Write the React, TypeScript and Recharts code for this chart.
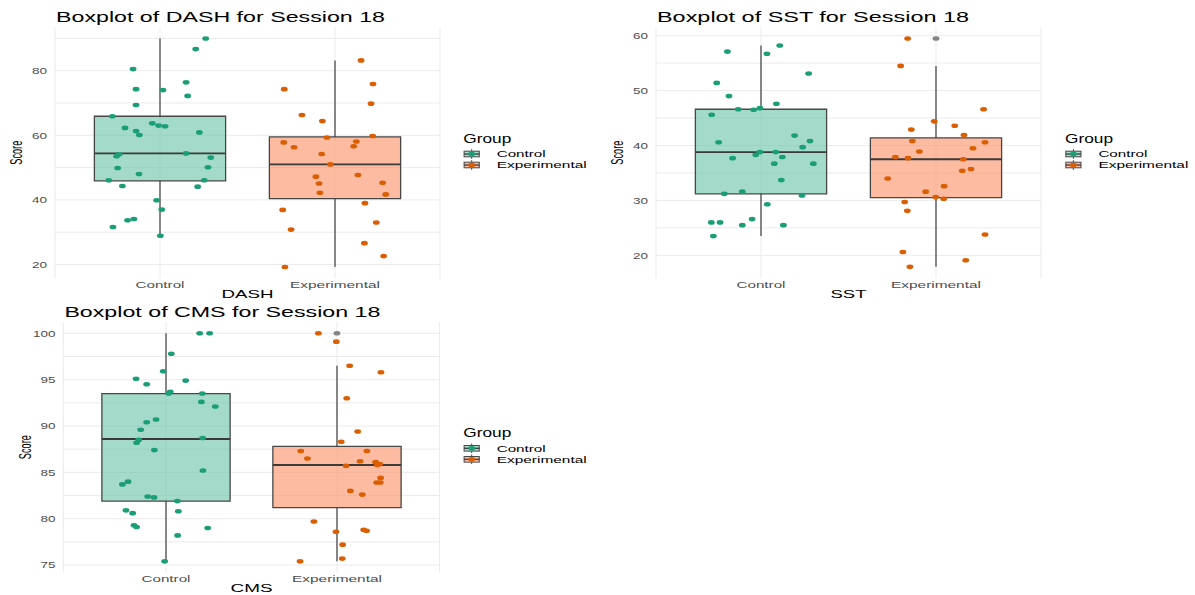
import {
  ComposedChart,
  Scatter,
  XAxis,
  YAxis,
  CartesianGrid,
  ReferenceArea,
  ReferenceLine,
} from 'recharts';

const FONT = '"Liberation Sans", Arial, Helvetica, sans-serif';

const GROUPS = ['Control', 'Experimental'];
const POINT_COLORS = ['#1b9e77', '#d95f02']; // Dark2
const BOX_FILLS = ['#66c2a5', '#fc8d62']; // Set2, drawn at 60% opacity
const OUTLIER_COLOR = '#858585';

// ---- DASH, session 18 ----
const dashControlX = [1.261, 1.204, 0.846, 1.149, 0.863, 1.017, 1.158, 0.863, 0.728, 0.956, 0.992, 1.029, 0.8, 0.863, 0.882, 1.225, 1.149, 0.766, 0.752, 1.29, 0.758, 1.274, 0.88, 0.707, 1.253, 0.785, 1.215, 0.981, 1.01, 0.851, 0.815, 0.731, 1.002];
const dashControlY = [90.0, 86.7, 80.5, 76.4, 74.3, 74.0, 72.2, 69.4, 65.9, 63.7, 63.0, 62.8, 62.3, 61.3, 60.1, 60.9, 54.4, 54.1, 53.5, 53.1, 49.9, 50.1, 48.0, 46.1, 46.1, 44.3, 44.1, 39.9, 37.0, 34.1, 33.7, 31.6, 28.9];
const dashExpX = [2.149, 2.217, 1.71, 2.206, 1.811, 1.928, 2.215, 1.954, 2.122, 1.707, 2.107, 1.766, 1.924, 1.973, 2.131, 1.891, 2.272, 1.909, 1.914, 2.29, 2.171, 1.701, 2.236, 1.749, 2.168, 2.278, 1.714];
const dashExpY = [83.2, 75.9, 74.3, 69.8, 66.3, 64.4, 59.8, 59.3, 58.1, 57.8, 56.6, 56.3, 54.2, 51.0, 47.7, 47.2, 45.3, 45.1, 42.2, 41.7, 39.0, 36.9, 33.0, 30.8, 26.6, 22.6, 19.2];
// [lower whisker, Q1, median, Q3, upper whisker]
const dashControlBox = [28.9, 45.9, 54.4, 65.9, 90.0];
const dashExpBox = [19.2, 40.4, 51.0, 59.5, 83.2];
const dashTicks = [20, 40, 60, 80];
const dashGrid = [20, 30, 40, 50, 60, 70, 80, 90];

// ---- SST, session 18 ----
const sstControlX = [1.107, 0.808, 1.034, 1.272, 0.747, 0.817, 1.088, 0.87, 0.958, 0.994, 0.718, 1.192, 0.758, 1.28, 1.238, 0.994, 1.084, 0.97, 1.122, 0.838, 1.076, 1.299, 1.116, 0.893, 0.79, 1.234, 1.036, 0.949, 0.716, 0.766, 0.893, 1.128, 0.728];
const sstControlY = [58.2, 57.1, 56.7, 53.1, 51.4, 49.0, 47.6, 46.6, 46.5, 46.8, 45.6, 41.8, 40.6, 40.8, 39.7, 38.8, 38.8, 38.3, 37.9, 37.7, 36.7, 36.7, 33.7, 31.6, 31.2, 30.9, 29.3, 26.6, 26.0, 26.0, 25.5, 25.5, 23.5];
const sstExpX = [1.838, 1.798, 2.272, 1.99, 2.107, 1.859, 2.16, 1.865, 2.28, 2.211, 1.905, 1.768, 1.84, 2.156, 2.2, 2.15, 1.724, 2.046, 1.941, 1.998, 2.044, 1.821, 1.836, 2.28, 1.811, 2.17, 1.851];
const sstExpY = [59.5, 54.5, 46.6, 44.4, 43.6, 42.9, 41.9, 40.8, 40.6, 39.5, 38.9, 37.9, 37.7, 37.5, 35.7, 35.4, 34.0, 32.6, 31.6, 30.6, 30.3, 29.7, 28.1, 23.8, 20.6, 19.1, 17.9];
const sstControlBox = [23.5, 31.2, 38.8, 46.6, 58.2];
const sstExpBox = [17.9, 30.5, 37.5, 41.4, 54.5];
const sstExpOutliers = [59.5];
const sstTicks = [20, 30, 40, 50, 60];
const sstGrid = [20, 25, 30, 35, 40, 45, 50, 55, 60];

// ---- CMS, session 18 ----
const cmsControlX = [1.197, 1.255, 1.031, 0.984, 0.825, 1.115, 0.887, 1.025, 1.016, 1.212, 1.207, 1.288, 0.942, 0.887, 0.852, 0.84, 1.214, 0.828, 0.932, 1.216, 0.778, 0.745, 0.893, 0.93, 1.066, 0.766, 0.805, 1.072, 0.813, 0.828, 1.244, 1.068, 0.992];
const cmsControlY = [100, 100, 97.8, 95.9, 95.1, 94.9, 94.5, 93.7, 93.5, 93.5, 92.6, 92.1, 90.7, 90.4, 89.6, 88.5, 88.7, 88.2, 87.4, 85.2, 84.0, 83.7, 82.4, 82.3, 81.9, 80.9, 80.6, 80.8, 79.3, 79.1, 79.0, 78.2, 75.4];
const cmsExpX = [1.891, 1.996, 2.074, 2.257, 2.057, 2.121, 2.025, 1.788, 2.175, 1.827, 2.135, 2.226, 2.25, 2.236, 2.053, 2.255, 2.232, 2.253, 2.078, 2.148, 1.865, 1.994, 2.156, 2.173, 2.033, 2.031, 1.784];
const cmsExpY = [100, 99.1, 96.5, 95.8, 93.0, 89.4, 88.3, 87.3, 87.3, 86.5, 86.2, 86.1, 85.9, 85.8, 85.7, 84.4, 83.9, 83.9, 83.0, 82.6, 79.7, 78.6, 78.8, 78.7, 77.2, 75.7, 75.4];
const cmsControlBox = [75.4, 81.9, 88.6, 93.5, 100];
const cmsExpBox = [75.4, 81.2, 85.8, 87.8, 96.5];
const cmsExpOutliers = [100];
const cmsTicks = [75, 80, 85, 90, 95, 100];
const cmsGrid = [75, 77.5, 80, 82.5, 85, 87.5, 90, 92.5, 95, 97.5, 100];

const toPoints = (xs: number[], ys: number[]) => xs.map((x, i) => ({ x, y: ys[i] }));

const PANELS = [
  {
    key: 'dash',
    measure: 'DASH',
    title: 'Boxplot of DASH for Session 18',
    origin: { x: 0, y: 0 },
    plot: { left: 55, right: 440, top: 27, bottom: 278.5 },
    domain: [15.66, 93.54],
    ticks: dashTicks,
    grid: dashGrid,
    points: [toPoints(dashControlX, dashControlY), toPoints(dashExpX, dashExpY)],
    boxes: [dashControlBox, dashExpBox],
    outliers: [[], []] as number[][],
    titleWidth: 329,
    measureWidth: 52,
    legend: { x: 0, y: 0 },
  },
  {
    key: 'sst',
    measure: 'SST',
    title: 'Boxplot of SST for Session 18',
    origin: { x: 600, y: 0 },
    plot: { left: 656, right: 1041, top: 26.9, bottom: 278.4 },
    domain: [15.8, 61.6],
    ticks: sstTicks,
    grid: sstGrid,
    points: [toPoints(sstControlX, sstControlY), toPoints(sstExpX, sstExpY)],
    boxes: [sstControlBox, sstExpBox],
    outliers: [[], sstExpOutliers],
    titleWidth: 312,
    measureWidth: 36,
    legend: { x: 601.7, y: 0 },
  },
  {
    key: 'cms',
    measure: 'CMS',
    title: 'Boxplot of CMS for Session 18',
    origin: { x: 0, y: 294 },
    plot: { left: 63.4, right: 439.6, top: 321.9, bottom: 572.4 },
    domain: [74.21, 101.23],
    ticks: cmsTicks,
    grid: cmsGrid,
    points: [toPoints(cmsControlX, cmsControlY), toPoints(cmsExpX, cmsExpY)],
    boxes: [cmsControlBox, cmsExpBox],
    outliers: [[], cmsExpOutliers],
    titleWidth: 316,
    measureWidth: 42,
    legend: { x: 0, y: 294.3 },
  },
];

const GROUP_LABEL_WIDTHS = [49, 90];
const BOX_HALF = 0.375;

// text squeezed/stretched to a fixed length, like the wide rendering of the plots
function FitText({ x, y, width, size, anchor = 'start', color = '#000', children }: any) {
  const left = anchor === 'middle' ? x - width / 2 : anchor === 'end' ? x - width : x;
  return (
    <text x={left} y={y} fontSize={size} fill={color} fontFamily={FONT} textLength={width} lengthAdjust="spacingAndGlyphs">
      {children}
    </text>
  );
}

const XTick = (props: any) => {
  const { x, y, payload } = props;
  const idx = Math.round(payload.value) - 1;
  return (
    <FitText x={x} y={y + 9.2} width={GROUP_LABEL_WIDTHS[idx]} size={9.3} anchor="middle" color="#4d4d4d">
      {GROUPS[idx]}
    </FitText>
  );
};

const YTick = (props: any) => {
  const { x, y, payload } = props;
  const label = String(payload.value);
  return (
    <FitText x={x - 8} y={y + 3.4} width={label.length * 7.5} size={9.3} anchor="end" color="#4d4d4d">
      {label}
    </FitText>
  );
};

const dotShape = (color: string) => (props: any) => (
  <ellipse cx={props.cx} cy={props.cy} rx={3.4} ry={2.3} fill={color} />
);

function BoxPanel({ panel }: { panel: (typeof PANELS)[number] }) {
  const { origin, plot } = panel;
  const width = plot.right - origin.x + 4;
  const height = plot.bottom - origin.y + 24;

  const boxMarks: any[] = [];
  panel.boxes.forEach((b, i) => {
    const c = i + 1;
    const [lo, q1, med, q3, hi] = b;
    boxMarks.push(
      <ReferenceLine key={`wu${i}`} segment={[{ x: c, y: q3 }, { x: c, y: hi }]} stroke="#3d3d3d" strokeWidth={1.2} />,
      <ReferenceLine key={`wl${i}`} segment={[{ x: c, y: lo }, { x: c, y: q1 }]} stroke="#3d3d3d" strokeWidth={1.2} />,
      <ReferenceArea
        key={`b${i}`}
        x1={c - BOX_HALF}
        x2={c + BOX_HALF}
        y1={q1}
        y2={q3}
        fill={BOX_FILLS[i]}
        fillOpacity={0.6}
        stroke="#474747"
        strokeWidth={1.3}
      />,
      <ReferenceLine key={`m${i}`} segment={[{ x: c - BOX_HALF, y: med }, { x: c + BOX_HALF, y: med }]} stroke="#3a3a3a" strokeWidth={1.9} />,
    );
  });

  return (
    <div style={{ position: 'absolute', left: origin.x, top: origin.y }}>
      <ComposedChart
        width={width}
        height={height}
        margin={{ top: plot.top - origin.y, right: 4, bottom: 0, left: 0 }}
      >
        <CartesianGrid stroke="#ebebeb" strokeWidth={1} horizontalValues={panel.grid} />
        <XAxis
          type="number"
          dataKey="x"
          domain={[0.4, 2.6]}
          ticks={[1, 2]}
          allowDataOverflow
          axisLine={false}
          tickLine={false}
          tickSize={0}
          tickMargin={0}
          height={24}
          tick={XTick}
        />
        <YAxis
          type="number"
          dataKey="y"
          domain={panel.domain}
          ticks={panel.ticks}
          allowDataOverflow
          axisLine={false}
          tickLine={false}
          tickSize={0}
          tickMargin={0}
          width={plot.left - origin.x}
          tick={YTick}
        />
        {boxMarks}
        {panel.outliers.map((vals, i) =>
          vals.length ? (
            <Scatter
              key={`o${i}`}
              data={vals.map((v) => ({ x: i + 1, y: v }))}
              shape={dotShape(OUTLIER_COLOR)}
              isAnimationActive={false}
            />
          ) : null,
        )}
        {panel.points.map((pts, i) => (
          <Scatter
            key={`p${i}`}
            name={GROUPS[i]}
            data={pts}
            shape={dotShape(POINT_COLORS[i])}
            isAnimationActive={false}
          />
        ))}
      </ComposedChart>
    </div>
  );
}

function LegendKey({ cx, cy, i }: { cx: number; cy: number; i: number }) {
  return (
    <g>
      <line x1={cx} x2={cx} y1={cy - 4.8} y2={cy - 2.8} stroke="#444" strokeWidth={1} />
      <line x1={cx} x2={cx} y1={cy + 2.8} y2={cy + 4.8} stroke="#444" strokeWidth={1} />
      <rect x={cx - 7.6} y={cy - 2.8} width={15.2} height={5.6} fill={BOX_FILLS[i]} fillOpacity={0.6} stroke="#474747" strokeWidth={1} />
      <line x1={cx - 7.6} x2={cx + 7.6} y1={cy} y2={cy} stroke="#3a3a3a" strokeWidth={1.3} />
      <ellipse cx={cx} cy={cy} rx={3.4} ry={2.3} fill={POINT_COLORS[i]} />
    </g>
  );
}

function PanelText({ panel }: { panel: (typeof PANELS)[number] }) {
  const { plot, legend } = panel;
  const midX = (plot.left + plot.right) / 2;
  const midY = (plot.top + plot.bottom) / 2;
  const scoreX = plot.left - 38.5;
  return (
    <g>
      <FitText x={plot.left + 1} y={plot.top - 4.6} width={panel.titleWidth} size={14.7}>
        {panel.title}
      </FitText>
      <FitText x={midX} y={plot.bottom + 19.7} width={panel.measureWidth} size={11.6} anchor="middle">
        {panel.measure}
      </FitText>
      <g transform={`translate(${scoreX},${midY}) scale(1.45,1) rotate(-90)`}>
        <FitText x={0} y={3.9} width={24} size={11} anchor="middle">
          Score
        </FitText>
      </g>
      <FitText x={legend.x + 463.3} y={legend.y + 142.7} width={48} size={12}>
        Group
      </FitText>
      {GROUPS.map((g, i) => {
        const cy = legend.y + 154 + i * 11;
        return (
          <g key={g}>
            <LegendKey cx={legend.x + 471.7} cy={cy} i={i} />
            <FitText x={legend.x + 496.7} y={cy + 3.4} width={GROUP_LABEL_WIDTHS[i]} size={9.3}>
              {g}
            </FitText>
          </g>
        );
      })}
    </g>
  );
}

export default function App() {
  return (
    <div
      style={{
        position: 'fixed',
        left: 0,
        top: 0,
        width: 1195,
        height: 595,
        background: '#ffffff',
        overflow: 'hidden',
      }}
    >
      {PANELS.map((p) => (
        <BoxPanel key={p.key} panel={p} />
      ))}
      <svg
        width={1195}
        height={595}
        style={{ position: 'absolute', left: 0, top: 0, pointerEvents: 'none' }}
      >
        {PANELS.map((p) => (
          <PanelText key={p.key} panel={p} />
        ))}
      </svg>
    </div>
  );
}
